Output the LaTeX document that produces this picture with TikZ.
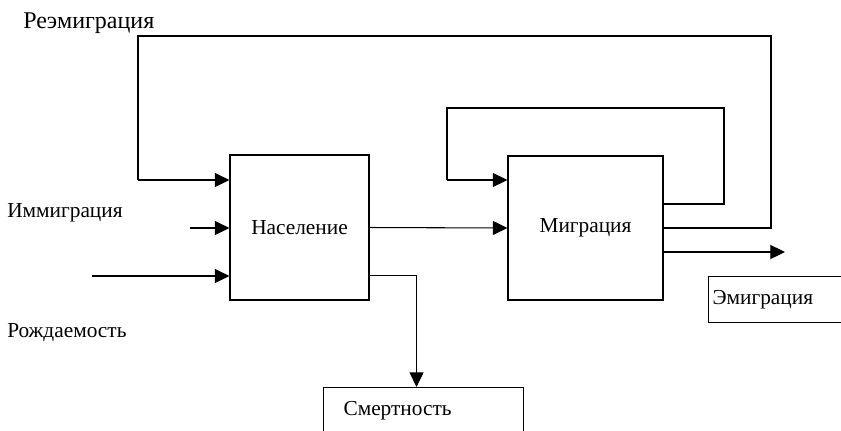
\documentclass[tikz,border=0pt]{standalone}
\usepackage{fontspec}
\setmainfont{Liberation Serif}
\usepackage{tikz}
\usetikzlibrary{arrows.meta,positioning,calc}

\tikzset{
  block/.style={draw, line width=0.8pt, minimum width=139*0.75pt, minimum height=145*0.75pt, inner sep=0pt},
  outbox/.style={draw, line width=0.8pt, anchor=north west, align=left, minimum height=46*0.75pt},
  flow/.style={line width=0.8pt, -{Triangle[length=11pt,width=10.5pt]}},
  loop/.style={line width=0.8pt},
  lbl/.style={anchor=base west, inner sep=0pt}
}

\begin{document}
\begin{tikzpicture}[x=0.75pt, y=-0.75pt, font=\fontsize{16}{19}\selectfont]
  \useasboundingbox (0,0) rectangle (841,430);
  \clip (0,0) rectangle (841,430);

  % blocks
  \node[block] (pop) at (299.5,227.5) {Население};
  \node[block, minimum width=155*0.75pt, minimum height=144*0.75pt] (mig) at (585.5,228) {Миграция};

  % output boxes (cut off by the page edge)
  \node[outbox, text width=170*0.75pt, inner xsep=3pt] (emi) at (708,276) {Эмиграция};
  \node[outbox, text width=160*0.75pt, inner xsep=15pt] (dth) at (323,387) {Смертность};

  % free labels
  \node[lbl, font=\fontsize{18}{21}\selectfont] (lre) at (23,28) {Реэмиграция};
  \node[lbl] (limm) at (7,217) {Иммиграция};
  \node[lbl] (lbirth) at (7,337) {Рождаемость};

  % loose ends and bends
  \coordinate (immIn) at (190,228);
  \coordinate (birthIn) at (92,276);
  \coordinate (reR) at (771,36);
  \coordinate (reL) at (138,180);
  \coordinate (selfR) at (724,108);
  \coordinate (selfL) at (447,180);
  \coordinate (emiEnd) at (785,252);

  % inputs
  \draw[flow] (immIn) -- (immIn -| pop.west);
  \draw[flow] (birthIn) -- (birthIn -| pop.west);

  % population to migration
  \draw[flow] (pop.east) -- (mig.west);

  % re-emigration loop
  \draw[loop] (mig.east) -| (reR) -| (reL);
  \draw[flow] (reL) -- (reL -| pop.west);

  % migration self loop
  \draw[loop] ($(mig.east)+(0,-24)$) -| (selfR) -| (selfL);
  \draw[flow] (selfL) -- (selfL -| mig.west);

  % emigration
  \draw[flow] ($(mig.east)+(0,24)$) -- (emiEnd);

  % mortality
  \draw[flow] ($(pop.east)+(0,48)$) -| ($(dth.north)+(-7,0)$);
\end{tikzpicture}
\end{document}
